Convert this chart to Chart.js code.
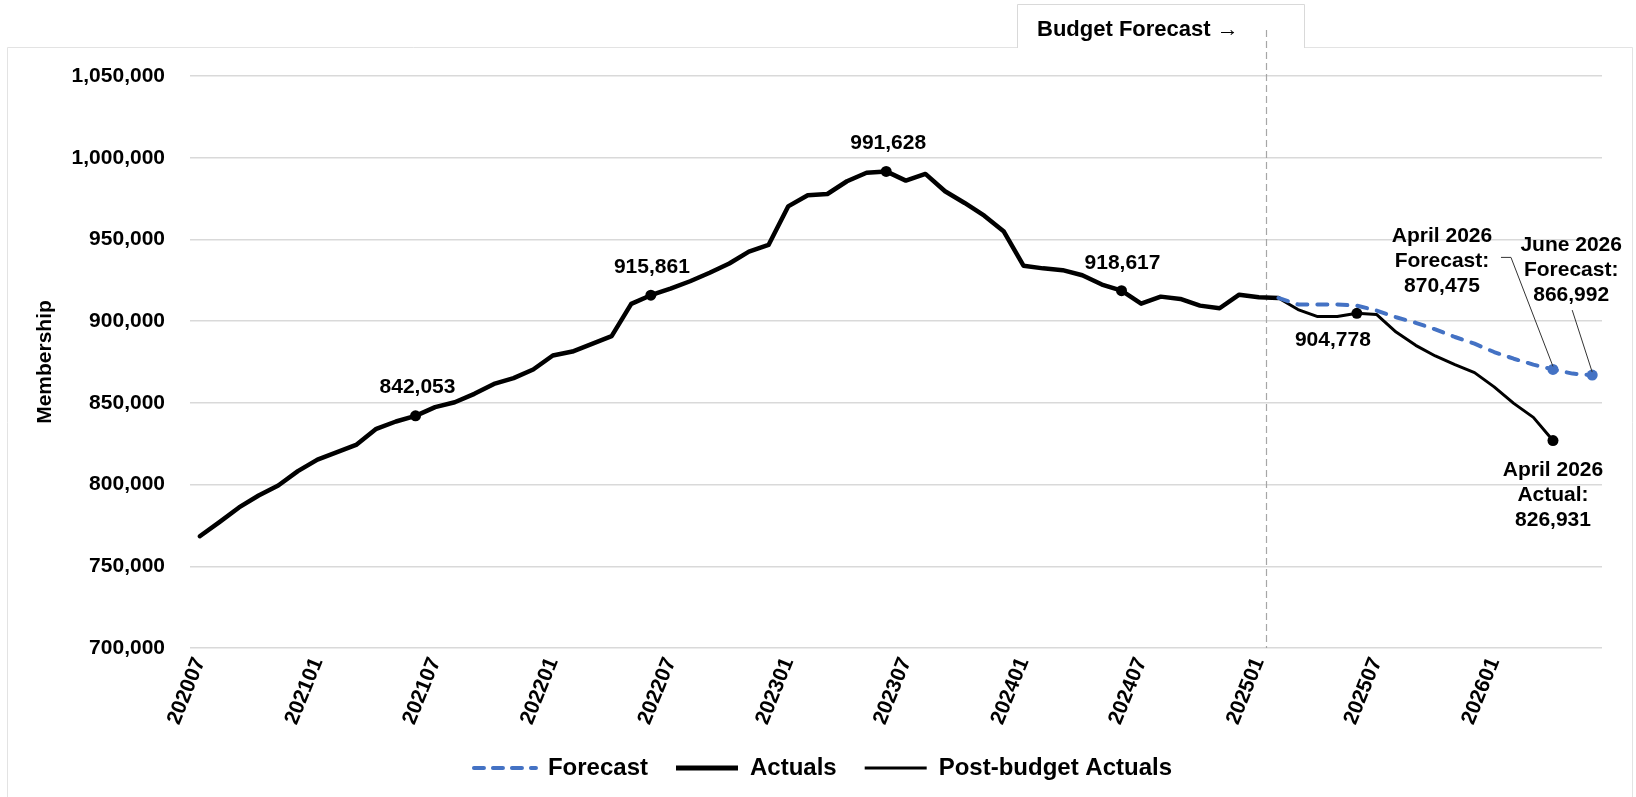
<!DOCTYPE html>
<html>
<head>
<meta charset="utf-8">
<script src="https://cdn.jsdelivr.net/npm/chart.js@4.4.1/dist/chart.umd.min.js"></script>
<style>
  html, body { margin: 0; padding: 0; background: #fff; }
</style>
</head>
<body>
<canvas id="chart" width="1636" height="797"></canvas>
<script>
const months = [
  '202007','202008','202009','202010','202011','202012',
  '202101','202102','202103','202104','202105','202106','202107','202108','202109','202110','202111','202112',
  '202201','202202','202203','202204','202205','202206','202207','202208','202209','202210','202211','202212',
  '202301','202302','202303','202304','202305','202306','202307','202308','202309','202310','202311','202312',
  '202401','202402','202403','202404','202405','202406','202407','202408','202409','202410','202411','202412',
  '202501','202502','202503','202504','202505','202506','202507','202508','202509','202510','202511','202512',
  '202601','202602','202603','202604','202605','202606'
];

// 202007 .. 202502
const actualValues = [
  768400, 777000, 786000, 793300, 799400, 808200,
  815300, 819800, 824500, 834100, 838600, 842053, 847400, 850400, 855500, 861600, 865100, 870400,
  879000, 881400, 886100, 890800, 910600, 915861, 919900, 924400, 929600, 935300, 942500, 946600,
  970200, 977000, 977800, 985600, 990800, 991628, 986000, 990100, 979500, 972300, 964500, 954800,
  933900, 932300, 931200, 928100, 922400, 918617, 910700, 915000, 913600, 909500, 907900, 916200,
  914600, 914200
];

// 202502 .. 202604
const postBudgetValues = [
  914200, 907100, 902800, 902800, 904778, 904100, 893300, 885200, 878700, 873400, 868500,
  859800, 849700, 841100, 826931
];

// 202502 .. 202606
const forecastValues = [
  914200, 910200, 910200, 910200, 909500, 906500, 902400, 899000, 894900, 890300, 886200,
  881100, 877000, 873400, 870475, 867900, 866992
];

const postBudgetStart = months.indexOf('202502');
const forecastStart = months.indexOf('202502');

const pad = (n, arr) => Array(n).fill(null).concat(arr);
const actuals = actualValues;
const postBudget = pad(postBudgetStart, postBudgetValues);
const forecast = pad(forecastStart, forecastValues);

const BLUE = '#4472C4';
const FONT = "'Liberation Sans', Arial, sans-serif";

Chart.defaults.font.family = FONT;
Chart.defaults.font.weight = 'bold';
Chart.defaults.font.size = 21;
Chart.defaults.color = '#000';

const markAt = list => ctx => list.includes(ctx.dataIndex) ? 5.5 : 0;

// labels next to marked points: dataset, point, extra lines, offset of first line
const notes = [
  { ds: 1, i: 11, lines: [], dx: 2, dy: -29 },
  { ds: 1, i: 23, lines: [], dx: 1, dy: -28 },
  { ds: 1, i: 35, lines: [], dx: 2, dy: -28 },
  { ds: 1, i: 47, lines: [], dx: 1, dy: -28 },
  { ds: 2, i: 59, lines: [], dx: -24, dy: 27 },
  { ds: 2, i: 69, lines: ['April 2026', 'Actual:'], dx: 0, dy: 30 },
  { ds: 0, i: 69, lines: ['April 2026', 'Forecast:'], dx: -111, dy: -133 },
  { ds: 0, i: 71, lines: ['June 2026', 'Forecast:'], dx: -21, dy: -130 }
];
const leaders = [
  { ds: 0, i: 69, path: [[-52, -112], [-42, -112], [0, -3]] },
  { ds: 0, i: 71, path: [[-20, -65], [0, -3]] }
];

const frame = {
  id: 'frame',
  beforeDraw(chart) {
    const c = chart.ctx;
    c.save();
    c.strokeStyle = '#e3e3e3';
    c.lineWidth = 1;
    c.beginPath();
    c.moveTo(7.5, 797); c.lineTo(7.5, 47.5); c.lineTo(1632.5, 47.5); c.lineTo(1632.5, 797);
    c.stroke();
    // budget box
    c.fillStyle = '#fff';
    c.fillRect(1017, 4, 288, 46);
    c.strokeStyle = '#d9d9d9';
    c.beginPath();
    c.moveTo(1017.5, 48); c.lineTo(1017.5, 4.5); c.lineTo(1304.5, 4.5); c.lineTo(1304.5, 48);
    c.stroke();
    c.fillStyle = '#000';
    c.font = 'bold 22px ' + FONT;
    c.textBaseline = 'middle';
    c.fillText('Budget Forecast \u2192', 1037, 30);
    c.restore();
  },
  beforeDatasetsDraw(chart) {
    const c = chart.ctx;
    const xs = chart.scales.x;
    const b = months.indexOf('202501');
    const x = Math.round(xs.getPixelForValue(b) + 0.35 * (xs.getPixelForValue(b + 1) - xs.getPixelForValue(b))) + 0.5;
    c.save();
    c.strokeStyle = '#a6a6a6';
    c.lineWidth = 1.2;
    c.setLineDash([7, 4]);
    c.beginPath();
    c.moveTo(x, 30);
    c.lineTo(x, chart.chartArea.bottom);
    c.stroke();
    c.restore();
  },
  afterDatasetsDraw(chart) {
    const c = chart.ctx;
    c.save();
    c.fillStyle = '#000';
    c.font = 'bold 21px ' + FONT;
    c.textAlign = 'center';
    c.textBaseline = 'middle';
    notes.forEach(n => {
      const pt = chart.getDatasetMeta(n.ds).data[n.i];
      const value = chart.data.datasets[n.ds].data[n.i];
      const lines = n.lines.concat(value.toLocaleString('en-US'));
      lines.forEach((t, k) => c.fillText(t, pt.x + n.dx, pt.y + n.dy + k * 25));
    });
    c.strokeStyle = '#333';
    c.lineWidth = 1;
    leaders.forEach(l => {
      const pt = chart.getDatasetMeta(l.ds).data[l.i];
      c.beginPath();
      l.path.forEach(([dx, dy], k) => {
        if (k === 0) c.moveTo(pt.x + dx, pt.y + dy);
        else c.lineTo(pt.x + dx, pt.y + dy);
      });
      c.stroke();
    });
    c.restore();
  }
};

const legendItems = [
  { text: 'Forecast', strokeStyle: BLUE, lineWidth: 4, lineDash: [10, 9], lineCap: 'round' },
  { text: 'Actuals', strokeStyle: '#000', lineWidth: 5, lineDash: [], lineCap: 'butt' },
  { text: 'Post-budget Actuals', strokeStyle: '#000', lineWidth: 3, lineDash: [], lineCap: 'butt' }
];

new Chart(document.getElementById('chart'), {
  type: 'line',
  plugins: [frame],
  data: {
    labels: months,
    datasets: [
      {
        label: 'Forecast',
        data: forecast,
        borderColor: BLUE,
        backgroundColor: BLUE,
        borderWidth: 4,
        borderDash: [10, 10],
        borderCapStyle: 'round',
        borderJoinStyle: 'round',
        pointRadius: markAt([69, 71]),
        pointBorderWidth: 0,
        tension: 0
      },
      {
        label: 'Actuals',
        data: actuals,
        borderColor: '#000',
        backgroundColor: '#000',
        borderWidth: 4.5,
        borderCapStyle: 'round',
        borderJoinStyle: 'round',
        pointRadius: markAt([11, 23, 35, 47]),
        pointBorderWidth: 0,
        tension: 0
      },
      {
        label: 'Post-budget Actuals',
        data: postBudget,
        borderColor: '#000',
        backgroundColor: '#000',
        borderWidth: 3,
        borderCapStyle: 'round',
        borderJoinStyle: 'round',
        pointRadius: markAt([59, 69]),
        pointBorderWidth: 0,
        tension: 0
      }
    ]
  },
  options: {
    responsive: false,
    animation: false,
    events: [],
    devicePixelRatio: 1,
    layout: { padding: { left: 44, right: 34, top: 76, bottom: 7 } },
    plugins: {
      tooltip: { enabled: false },
      legend: {
        position: 'bottom',
        labels: {
          usePointStyle: true,
          pointStyleWidth: 62,
          boxHeight: 20,
          padding: 28,
          font: { size: 24, weight: 'bold' },
          color: '#000',
          generateLabels: () => legendItems.map((it, k) => ({
            text: it.text,
            fillStyle: it.strokeStyle,
            strokeStyle: it.strokeStyle,
            lineWidth: it.lineWidth,
            lineDash: it.lineDash,
            lineCap: it.lineCap,
            pointStyle: 'line',
            hidden: false,
            datasetIndex: k,
            fontColor: '#000'
          }))
        }
      }
    },
    scales: {
      x: {
        offset: true,
        grid: { display: false, drawTicks: false },
        border: { display: false },
        afterFit: s => { s.height = 80; },
        ticks: {
          autoSkip: false,
          minRotation: 68,
          maxRotation: 68,
          padding: 6,
          font: { size: 21, weight: 'bold' },
          callback: function (v, i) { return i % 6 === 0 ? this.getLabelForValue(v) : ''; }
        }
      },
      y: {
        min: 700000,
        max: 1050000,
        afterFit: s => { s.width = 146; },
        grid: { color: '#d9d9d9', lineWidth: 1.5, drawTicks: false },
        border: { display: false },
        ticks: {
          stepSize: 50000,
          padding: 25,
          font: { size: 21, weight: 'bold' },
          callback: v => v.toLocaleString('en-US')
        },
        title: {
          display: true,
          text: 'Membership',
          font: { size: 21, weight: 'bold', lineHeight: 1 },
          padding: { top: -9, bottom: 0 }
        }
      }
    }
  }
});
</script>
</body>
</html>
